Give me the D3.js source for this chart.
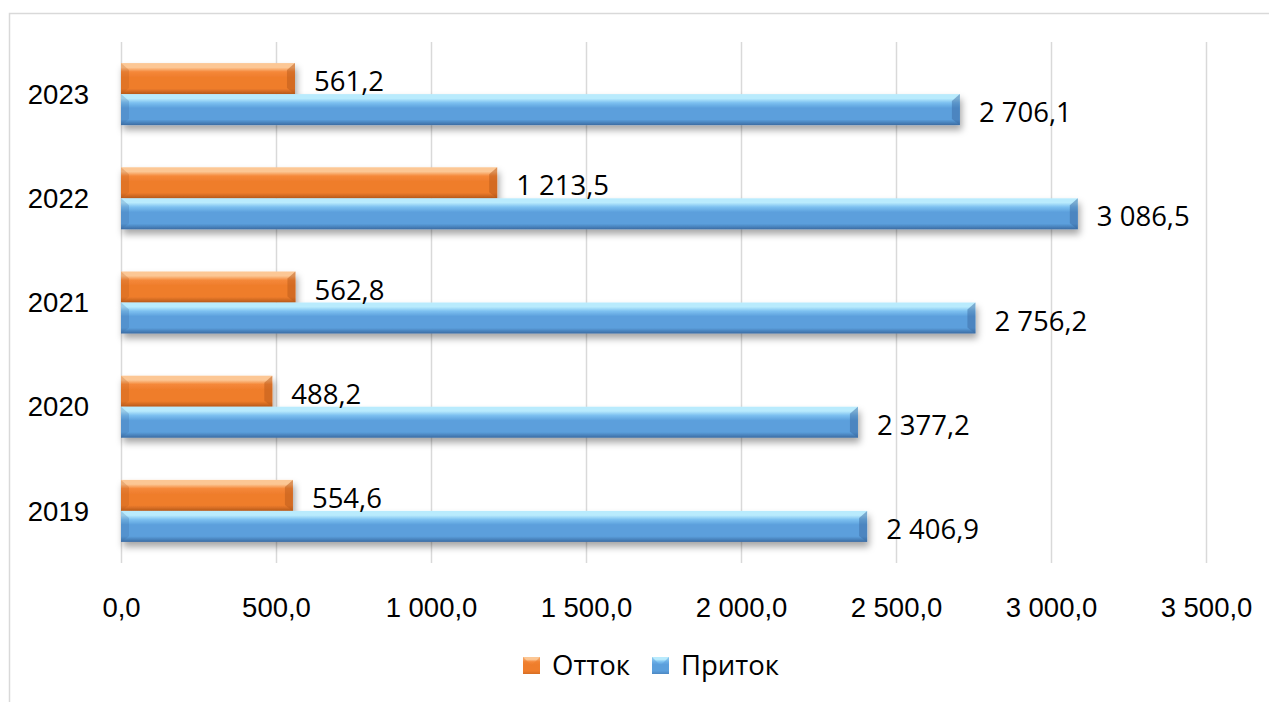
<!DOCTYPE html>
<html>
<head>
<meta charset="utf-8">
<script src="https://cdn.jsdelivr.net/npm/d3@7"></script>
<style>
  html, body { margin: 0; padding: 0; background: #fff; }
  svg { display: block; font-family: 'Open Sans', Lato, sans-serif; }
</style>
</head>
<body>
<div id="chart"></div>
<script>
const years = ['2019', '2020', '2021', '2022', '2023']
const outflow = [554.6, 488.2, 562.8, 1213.5, 561.2]   // Отток
const inflow = [2406.9, 2377.2, 2756.2, 3086.5, 2706.1] // Приток
const seriesNames = ['Отток', 'Приток']
const xTicks = [0, 500, 1000, 1500, 2000, 2500, 3000, 3500]

const width = 1269
const height = 702
const margin = { top: 42, right: 63, bottom: 139, left: 121 }
const fontSize = '27.5px'

const ru = d3.formatLocale({ decimal: ',', thousands: ' ', grouping: [3], currency: ['', ' ₽'] })
const fmt = ru.format(',.1f')

const palette = {
  'Отток': { light: '#fcc795', mid: '#f5883a', main: '#ef7d2c', dark: '#b95a1a' },
  'Приток': { light: '#b9ebfd', mid: '#7cc0f0', main: '#5b9fdc', dark: '#3b6ca3' }
}

const rows = years.map((year, i) => ({
  year,
  values: [
    { key: 'Отток', value: outflow[i] },
    { key: 'Приток', value: inflow[i] }
  ]
}))

const svg = d3.select('#chart')
  .append('svg')
  .attr('width', width)
  .attr('height', height)

// chart frame, cut off on right and bottom like the original
svg.append('rect')
  .attr('x', 9.5)
  .attr('y', 13.5)
  .attr('width', 1400)
  .attr('height', 1000)
  .attr('fill', 'none')
  .attr('stroke', '#d9d9d9')
  .attr('stroke-width', 1.5)

const defs = svg.append('defs')

const shadow = defs.append('filter')
  .attr('id', 'shadow')
  .attr('x', '-5%').attr('y', '-30%')
  .attr('width', '110%').attr('height', '190%')
shadow.append('feDropShadow')
  .attr('dx', 2).attr('dy', 5)
  .attr('stdDeviation', 3.5)
  .attr('flood-color', '#000')
  .attr('flood-opacity', 0.35)

Object.entries(palette).forEach(([key, c], i) => {
  const g = defs.append('linearGradient')
    .attr('id', 'grad' + i)
    .attr('x1', 0).attr('y1', 0).attr('x2', 0).attr('y2', 1)
  g.append('stop').attr('offset', '0%').attr('stop-color', c.light)
  g.append('stop').attr('offset', '14%').attr('stop-color', c.light)
  g.append('stop').attr('offset', '28%').attr('stop-color', c.mid)
  g.append('stop').attr('offset', '45%').attr('stop-color', c.main)
  g.append('stop').attr('offset', '82%').attr('stop-color', c.main)
  g.append('stop').attr('offset', '100%').attr('stop-color', c.dark)
})

const x = d3.scaleLinear()
  .domain([0, 3500])
  .range([margin.left, width - margin.right])

const y = d3.scaleBand()
  .domain(years.slice().reverse())
  .range([margin.top, height - margin.bottom])
  .padding(0)

const y1 = d3.scaleBand()
  .domain(seriesNames)
  .range([0, y.bandwidth()])
  .paddingInner(0)
  .paddingOuter(0.68)

// gridlines + tick labels
const xAxis = svg.append('g')
  .attr('transform', `translate(0,${height - margin.bottom})`)
  .call(d3.axisBottom(x)
    .tickValues(xTicks)
    .tickFormat(fmt)
    .tickSize(-(height - margin.top - margin.bottom)))

xAxis.select('.domain').remove()
xAxis.selectAll('.tick line')
  .attr('stroke', '#d9d9d9')
  .attr('stroke-width', 1.5)
xAxis.selectAll('.tick text')
  .attr('y', 44)
  .attr('dy', '0.35em')
  .attr('fill', '#000')
  .style('font-size', fontSize)

const yAxis = svg.append('g')
  .attr('transform', `translate(${margin.left},0)`)
  .call(d3.axisLeft(y).tickSize(0).tickPadding(32))

yAxis.select('.domain').remove()
yAxis.selectAll('.tick text')
  .attr('dy', '0.35em')
  .attr('fill', '#000')
  .style('font-size', fontSize)

// bars
const groups = svg.append('g')
  .selectAll('g')
  .data(rows)
  .join('g')
  .attr('transform', d => `translate(0,${y(d.year)})`)

const bars = groups.selectAll('g.bar')
  .data(d => d.values)
  .join('g')
  .attr('class', 'bar')

bars.append('rect')
  .attr('x', x(0))
  .attr('y', d => y1(d.key))
  .attr('width', d => x(d.value) - x(0))
  .attr('height', y1.bandwidth())
  .attr('fill', d => `url(#grad${seriesNames.indexOf(d.key)})`)
  .attr('filter', 'url(#shadow)')

// bevelled right end
bars.append('polygon')
  .attr('points', d => {
    const x1 = x(d.value)
    const t = y1(d.key)
    const b = t + y1.bandwidth()
    return [[x1 - 8, t + 7], [x1, t], [x1, b], [x1 - 8, b - 6]].map(p => p.join(',')).join(' ')
  })
  .attr('fill', d => palette[d.key].dark)
  .attr('opacity', 0.5)

// bevelled left end
bars.append('polygon')
  .attr('points', d => {
    const x0 = x(0)
    const t = y1(d.key)
    const b = t + y1.bandwidth()
    return [[x0, t], [x0 + 8, t + 7], [x0 + 8, b - 6], [x0, b]].map(p => p.join(',')).join(' ')
  })
  .attr('fill', d => palette[d.key].dark)
  .attr('opacity', 0.25)

// value labels
groups.selectAll('text.value')
  .data(d => d.values)
  .join('text')
  .attr('class', 'value')
  .attr('x', d => x(d.value) + 19)
  .attr('y', d => y1(d.key) + y1.bandwidth() / 2 + 3)
  .attr('dy', '0.35em')
  .attr('fill', '#000')
  .style('font-size', fontSize)
  .text(d => fmt(d.value))

// legend
const legendItems = [
  { key: 'Отток', x: 523 },
  { key: 'Приток', x: 652 }
]
const legend = svg.append('g')
  .selectAll('g')
  .data(legendItems)
  .join('g')
  .attr('transform', d => `translate(${d.x},657)`)

legend.append('rect')
  .attr('width', 17)
  .attr('height', 17)
  .attr('fill', (d, i) => `url(#grad${i})`)

legend.append('polygon')
  .attr('points', '0,0 8.5,8.5 17,0 17,17 0,17')
  .attr('fill', d => palette[d.key].main)
  .attr('opacity', 0.55)

legend.append('text')
  .attr('x', 29)
  .attr('y', 8.5)
  .attr('dy', '0.35em')
  .attr('fill', '#000')
  .style('font-size', fontSize)
  .text(d => d.key)
</script>
</body>
</html>
